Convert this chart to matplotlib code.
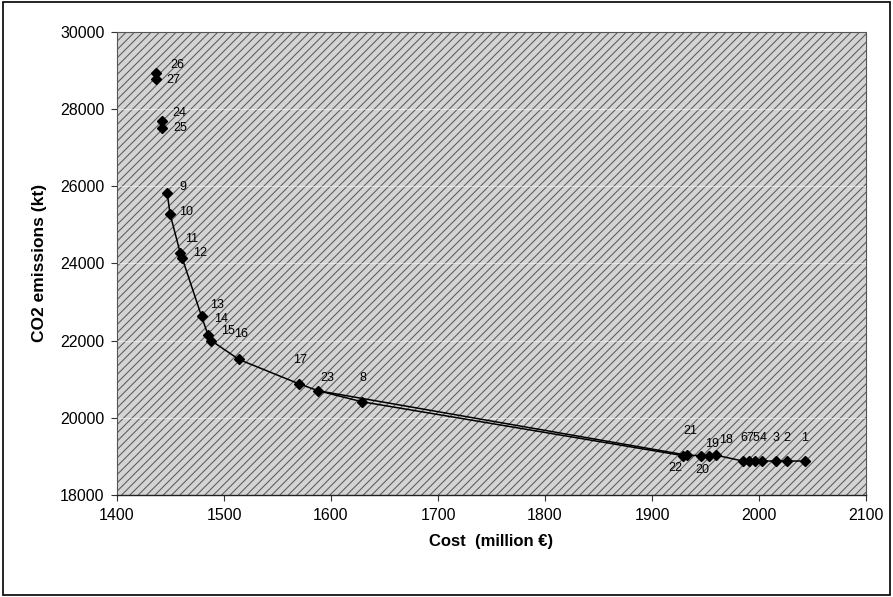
import matplotlib
matplotlib.use("Agg")
import matplotlib.pyplot as plt
from matplotlib.patches import Rectangle

plt.rcParams['font.family'] = ['Liberation Sans', 'DejaVu Sans']
plt.rcParams['hatch.linewidth'] = 0.75
plt.rcParams['hatch.color'] = '#5a5a5a'

# Solution ids with cost (million EUR) and CO2 emissions (kt)
ids = [1, 2, 3, 4, 5, 6, 7, 8, 9, 10, 11, 12, 13, 14,
       15, 16, 17, 18, 19, 20, 21, 22, 23, 24, 25, 26, 27]
cost = [2043, 2026, 2016, 2003, 1996, 1985, 1991, 1629, 1447, 1449.5,
        1459, 1461, 1479, 1485, 1488, 1514, 1570, 1960, 1953, 1946,
        1933, 1929, 1588, 1442, 1442, 1436, 1436]
co2 = [18880, 18880, 18880, 18880, 18880, 18880, 18880, 20415, 25810, 25290,
       24280, 24130, 22630, 22150, 22000, 21510, 20880, 19030, 19020, 19020,
       19030, 19020, 20700, 27680, 27510, 28930, 28770]

# Trade-off front connections (by solution id)
front_main = [9, 10, 11, 12, 13, 14, 15, 16, 17, 23, 21, 20, 19, 18, 6, 7, 5, 4, 3, 2, 1]
front_alt = [23, 8, 22, 21]

x_ticks = [1400, 1500, 1600, 1700, 1800, 1900, 2000, 2100]
y_ticks = [18000, 20000, 22000, 24000, 26000, 28000, 30000]

# label offsets in pixels (dx, dy) relative to each marker
label_offsets = {
    1: (0, 23), 2: (0, 23), 3: (0, 23), 4: (1, 23), 5: (1, 23), 6: (1, 23),
    7: (0, 23), 8: (1, 24), 9: (16, 6), 10: (16, 2), 11: (11, 14),
    12: (18, 5), 13: (15, 11), 14: (13, 16), 15: (17, 10), 16: (2, 25),
    17: (1, 24), 18: (10, 15), 19: (3, 12), 20: (1, -14), 21: (3, 24),
    22: (-8, -12), 23: (9, 13), 24: (17, 8), 25: (18, 0), 26: (22, 8),
    27: (18, -1),
}

pts = {i: (c, e) for i, c, e in zip(ids, cost, co2)}

fig = plt.figure(figsize=(8.93, 5.97), dpi=100)
ax = fig.add_axes([117 / 893, 1 - 495 / 597, (866 - 117) / 893, (495 - 31.7) / 597])

ax.set_xlim(1400, 2100)
ax.set_ylim(18000, 30000)

# hatched plot background
ax.patch.set_facecolor('#d4d4d4')
ax.patch.set_hatch('////')
ax.patch.set_edgecolor('#5a5a5a')

for yt in y_ticks[1:-1]:
    ax.axhline(yt, color='white', lw=0.7, alpha=0.55, zorder=1)

for path in (front_main, front_alt):
    xs = [pts[i][0] for i in path]
    ys = [pts[i][1] for i in path]
    ax.plot(xs, ys, color='black', lw=1.1, zorder=3)

ax.plot(cost, co2, linestyle='none', marker='D', markersize=5,
        color='black', zorder=4)

for i in ids:
    dx, dy = label_offsets[i]
    ax.annotate(str(i), pts[i], xytext=(dx, dy), textcoords='offset pixels',
                ha='center', va='center', fontsize=9, color='black',
                zorder=5)

ax.set_xticks(x_ticks)
ax.set_yticks(y_ticks)
ax.tick_params(axis='both', labelsize=11.5, length=4, width=0.8,
               color='#333333', pad=5)

ax.set_xlabel('Cost  (million €)', fontsize=12, fontweight='bold', labelpad=8)
ax.set_ylabel('CO2 emissions (kt)', fontsize=12.5, fontweight='bold', labelpad=9)

for side in ('top', 'right', 'left'):
    ax.spines[side].set_color('#555555')
    ax.spines[side].set_linestyle((0, (2, 1)))
    ax.spines[side].set_linewidth(0.8)
ax.spines['bottom'].set_color('#222222')
ax.spines['bottom'].set_linewidth(1.0)

# outer frame around the figure
fig.patches.append(Rectangle((0.003, 0.003), 0.994, 0.994, transform=fig.transFigure,
                             fill=False, edgecolor='black', lw=1.2))

fig.savefig('out.png', dpi=100)
